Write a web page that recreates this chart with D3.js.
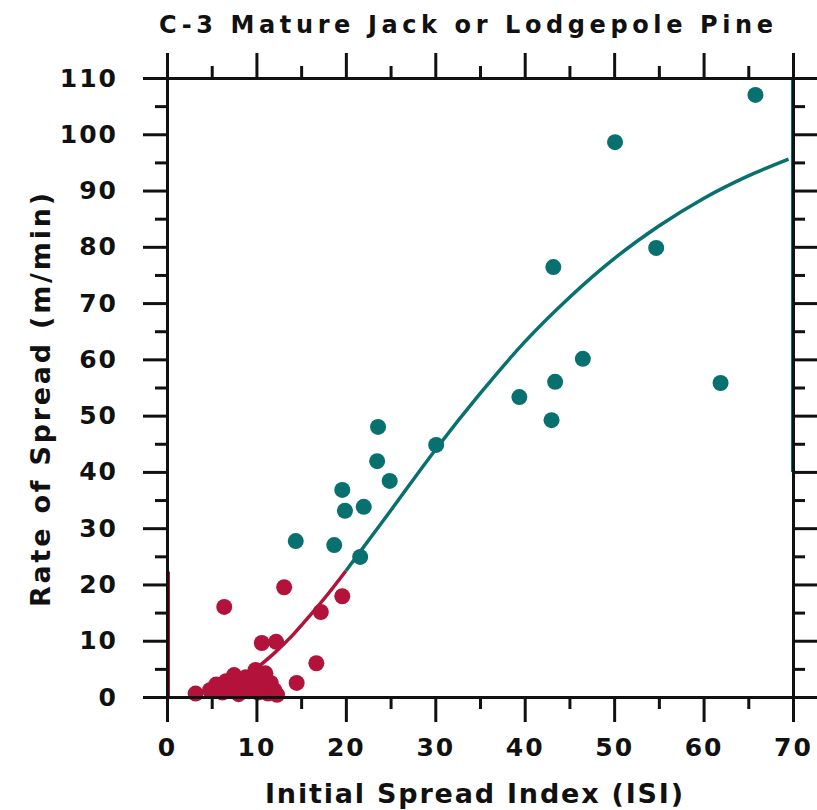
<!DOCTYPE html>
<html lang="en">
<head>
<meta charset="utf-8">
<title>C-3 Mature Jack or Lodgepole Pine</title>
<script src="https://cdn.jsdelivr.net/npm/d3@7"></script>
<style>
  body { margin: 0; background: #fff; }
  text { font-family: "DejaVu Sans", sans-serif; font-weight: bold; fill: #111; }
</style>
</head>
<body>
<script>
// observed fires, ISI < 20 (red)
var lowIsi = [3.2, 4.8, 5.5, 6.2, 6.6, 7.3, 7.5, 8.0, 8.4, 8.8, 9.2, 9.5, 9.9, 10.2, 10.4, 10.8, 11.0, 11.3, 11.6, 12.0, 12.3,
              10.6, 12.2, 6.4, 13.1, 14.5, 16.7, 17.2, 19.6];
var lowRos = [0.6, 1.2, 2.2, 0.8, 2.8, 1.5, 3.9, 0.5, 2.2, 3.5, 1.0, 2.6, 4.8, 0.8, 3.2, 1.8, 4.2, 0.6, 2.5, 1.2, 0.4,
              9.6, 9.8, 16.0, 19.5, 2.5, 6.0, 15.1, 17.9];

// observed fires, ISI >= 14 (teal)
var highIsi = [65.8, 50.1, 54.7, 43.2, 46.5, 43.4, 61.9, 39.4, 43.0, 23.6, 23.5, 30.1, 24.9, 19.6, 19.9, 22.0, 14.4, 18.7, 21.6];
var highRos = [107.0, 98.6, 79.8, 76.4, 60.1, 56.0, 55.8, 53.3, 49.2, 48.0, 41.9, 44.8, 38.4, 36.8, 33.1, 33.8, 27.7, 27.0, 24.9];

// fitted curve
var curveLowIsi = [10, 12, 14, 16, 18, 20];
var curveLowRos = [5.1, 7.8, 10.9, 14.5, 18.3, 22.4];
var curveHighIsi = [20, 25, 30, 35, 40, 45, 50, 55, 60, 65, 69.5];
var curveHighRos = [22.4, 33.1, 43.9, 53.9, 63.1, 71.0, 77.9, 83.7, 88.6, 92.6, 95.6];

var xMajor = [0, 10, 20, 30, 40, 50, 60, 70];
var yMajor = [0, 10, 20, 30, 40, 50, 60, 70, 80, 90, 100, 110];

var red = "#b3123a", teal = "#08706f";

var svg = d3.select("body").append("svg")
            .attr("width", 817)
            .attr("height", 810);

var x = d3.scaleLinear().domain([0, 70]).range([167, 793]);
var y = d3.scaleLinear().domain([0, 110]).range([697, 78]);

function zip(a, b){ return a.map(function(v, i){ return [v, b[i]]; }); }

// faint colour layer edges from the scan
svg.append("line").attr("x1", x(0) + 2).attr("x2", x(0) + 2).attr("y1", y(0)).attr("y2", y(22.3))
   .attr("stroke", red).attr("stroke-width", 2);
svg.append("line").attr("x1", x(70) - 1).attr("x2", x(70) - 1).attr("y1", y(110)).attr("y2", y(40))
   .attr("stroke", teal).attr("stroke-width", 2);

var line = d3.line()
             .x(function(d){ return x(d[0]); })
             .y(function(d){ return y(d[1]); })
             .curve(d3.curveMonotoneX);

svg.append("path").datum(zip(curveLowIsi, curveLowRos))
   .attr("d", line).attr("fill", "none").attr("stroke", red).attr("stroke-width", 3.5);
svg.append("path").datum(zip(curveHighIsi, curveHighRos))
   .attr("d", line).attr("fill", "none").attr("stroke", teal).attr("stroke-width", 3.5);

svg.selectAll("circle.low").data(zip(lowIsi, lowRos)).enter().append("circle")
   .attr("class", "low")
   .attr("cx", function(d){ return x(d[0]); })
   .attr("cy", function(d){ return y(d[1]); })
   .attr("r", 8).attr("fill", red);

svg.selectAll("circle.high").data(zip(highIsi, highRos)).enter().append("circle")
   .attr("class", "high")
   .attr("cx", function(d){ return x(d[0]); })
   .attr("cy", function(d){ return y(d[1]); })
   .attr("r", 8).attr("fill", teal);

// axes on all four sides, major ticks labelled on bottom & left
var xMinor = d3.range(5, 70, 10), yMinor = d3.range(5, 110, 10);

function drawAxis(gen, tx, ty, labels){
  var g = svg.append("g").attr("transform", "translate(" + tx + "," + ty + ")").call(gen);
  g.select(".domain").attr("stroke", "#111").attr("stroke-width", 3);
  g.selectAll(".tick line").attr("stroke", "#111").attr("stroke-width", 3);
  if (!labels) g.selectAll(".tick text").remove();
  return g;
}

var gx = drawAxis(d3.axisBottom(x).tickValues(xMajor).tickSize(25).tickPadding(8).tickSizeOuter(0), 0, y(0), true);
drawAxis(d3.axisBottom(x).tickValues(xMinor).tickSize(12).tickSizeOuter(0), 0, y(0), false);
drawAxis(d3.axisTop(x).tickValues(xMajor).tickSize(25).tickSizeOuter(0), 0, y(110), false);
drawAxis(d3.axisTop(x).tickValues(xMinor).tickSize(12).tickSizeOuter(0), 0, y(110), false);
var gy = drawAxis(d3.axisLeft(y).tickValues(yMajor).tickSize(24).tickPadding(25).tickSizeOuter(0), x(0), 0, true);
drawAxis(d3.axisLeft(y).tickValues(yMinor).tickSize(12).tickSizeOuter(0), x(0), 0, false);
drawAxis(d3.axisRight(y).tickValues(yMajor).tickSize(24).tickSizeOuter(0), x(70), 0, false);
drawAxis(d3.axisRight(y).tickValues(yMinor).tickSize(12).tickSizeOuter(0), x(70), 0, false);

gx.selectAll(".tick text").attr("font-size", 25).attr("letter-spacing", 2)
  .style("fill", "#111").attr("dy", "1.05em");
gy.selectAll(".tick text").attr("font-size", 25).attr("letter-spacing", 2)
  .style("fill", "#111");

svg.append("text").attr("x", 159).attr("y", 33)
   .attr("textLength", 614).attr("lengthAdjust", "spacing")
   .attr("font-size", 24)
   .text("C-3 Mature Jack or Lodgepole Pine");

svg.append("text").attr("x", 265).attr("y", 803)
   .attr("textLength", 418).attr("lengthAdjust", "spacing")
   .attr("font-size", 27)
   .text("Initial Spread Index (ISI)");

svg.append("text").attr("transform", "translate(50,607) rotate(-90)")
   .attr("textLength", 414).attr("lengthAdjust", "spacing")
   .attr("font-size", 27)
   .text("Rate of Spread (m/min)");
</script>
</body>
</html>
